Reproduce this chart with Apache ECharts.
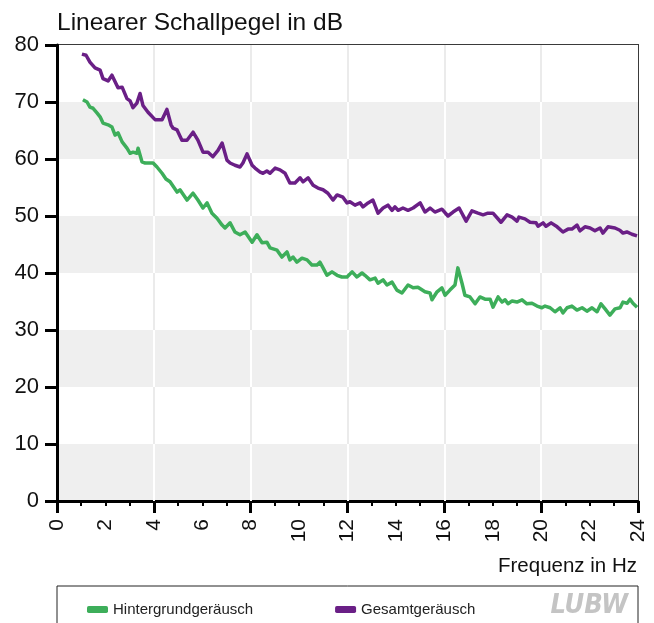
<!DOCTYPE html>
<html>
<head>
<meta charset="utf-8">
<script src="https://cdn.jsdelivr.net/npm/echarts@6/dist/echarts.min.js"></script>
<style>
  html, body { margin: 0; padding: 0; background: #fff; }
  #chart { width: 654px; height: 623px; }
</style>
</head>
<body>
<div id="chart"></div>
<script>
// Hintergrundgeräusch (green)
var hgFreq = [1.07, 1.24, 1.36, 1.49, 1.65, 1.78, 1.90, 2.11, 2.27, 2.40,
  2.52, 2.69, 2.89, 3.02, 3.14, 3.30, 3.35, 3.51, 3.64, 3.97,
  4.13, 4.34, 4.50, 4.67, 4.96, 5.08, 5.37, 5.62, 5.82, 6.03,
  6.20, 6.40, 6.61, 6.82, 6.94, 7.15, 7.35, 7.56, 7.77, 8.06,
  8.26, 8.47, 8.67, 8.80, 9.09, 9.29, 9.50, 9.62, 9.75, 9.91,
  10.12, 10.33, 10.53, 10.74, 10.86, 10.99, 11.15, 11.36, 11.57, 11.77,
  11.98, 12.19, 12.39, 12.60, 12.72, 12.93, 13.14, 13.26, 13.47, 13.63,
  13.84, 14.04, 14.25, 14.50, 14.71, 14.91, 15.20, 15.41, 15.49, 15.70,
  15.90, 16.03, 16.23, 16.44, 16.56, 16.73, 16.85, 17.06, 17.27, 17.47,
  17.68, 17.89, 18.01, 18.22, 18.38, 18.51, 18.63, 18.80, 19.00, 19.21,
  19.41, 19.62, 19.83, 20.03, 20.16, 20.37, 20.57, 20.78, 20.90, 21.07,
  21.27, 21.48, 21.69, 21.89, 22.10, 22.31, 22.47, 22.64, 22.84, 23.05,
  23.26, 23.38, 23.55, 23.67, 23.79, 23.96];
var hgLevel = [70.4, 70.0, 69.1, 68.9, 68.1, 67.4, 66.3, 66.0, 65.6, 64.2,
  64.6, 63.0, 61.9, 61.0, 61.2, 61.0, 61.9, 59.5, 59.3, 59.3,
  58.6, 57.5, 56.5, 56.0, 54.2, 54.6, 52.8, 54.0, 52.8, 51.4,
  52.3, 50.5, 49.6, 48.4, 47.9, 48.8, 47.2, 46.7, 47.2, 45.4,
  46.7, 45.3, 45.4, 44.4, 44.0, 42.8, 43.7, 42.3, 42.8, 41.9,
  42.6, 42.3, 41.4, 41.4, 41.9, 40.9, 39.6, 40.2, 39.6, 39.3,
  39.3, 40.2, 39.3, 40.0, 39.6, 38.8, 39.1, 38.2, 38.8, 37.9,
  38.4, 37.0, 36.5, 37.9, 37.4, 37.5, 36.7, 36.5, 35.3, 36.7,
  37.4, 36.1, 37.0, 37.9, 40.9, 38.2, 36.1, 35.8, 34.6, 35.8,
  35.4, 35.4, 34.0, 35.8, 34.9, 35.3, 34.6, 35.1, 34.9, 35.3,
  34.6, 34.7, 34.2, 33.9, 34.2, 33.9, 33.2, 33.9, 33.0, 33.9,
  34.2, 33.5, 33.9, 33.3, 33.9, 33.2, 34.6, 33.7, 32.6, 33.7,
  33.9, 34.9, 34.7, 35.4, 34.7, 34.0];

// Gesamtgeräusch (purple)
var gesFreq = [1.03, 1.20, 1.36, 1.57, 1.78, 1.90, 2.11, 2.27, 2.52, 2.69,
  2.89, 3.02, 3.14, 3.30, 3.43, 3.55, 3.76, 4.05, 4.34, 4.54,
  4.71, 4.79, 4.96, 5.16, 5.37, 5.62, 5.82, 6.03, 6.24, 6.44,
  6.65, 6.82, 7.02, 7.15, 7.35, 7.56, 7.68, 7.85, 8.06, 8.18,
  8.39, 8.51, 8.67, 8.80, 9.01, 9.21, 9.42, 9.62, 9.83, 10.04,
  10.16, 10.37, 10.58, 10.78, 10.99, 11.19, 11.40, 11.57, 11.81, 11.98,
  12.10, 12.31, 12.52, 12.64, 12.85, 13.05, 13.26, 13.47, 13.67, 13.84,
  13.96, 14.09, 14.29, 14.50, 14.71, 15.00, 15.20, 15.41, 15.61, 15.90,
  16.15, 16.36, 16.61, 16.90, 17.14, 17.39, 17.60, 17.80, 18.01, 18.34,
  18.59, 18.80, 19.00, 19.08, 19.33, 19.54, 19.79, 19.87, 20.08, 20.20,
  20.41, 20.66, 20.90, 21.11, 21.27, 21.48, 21.60, 21.81, 22.02, 22.22,
  22.43, 22.55, 22.76, 23.05, 23.25, 23.38, 23.54, 23.75, 23.96];
var gesLevel = [78.4, 78.2, 77.0, 76.0, 75.6, 74.1, 73.7, 74.7, 72.5, 72.6,
  70.6, 70.2, 69.0, 69.8, 71.5, 69.4, 68.2, 66.9, 66.9, 68.7,
  66.0, 65.4, 65.1, 63.3, 63.3, 64.7, 63.3, 61.2, 61.2, 60.4,
  61.5, 62.8, 59.8, 59.3, 58.9, 58.6, 59.3, 60.9, 58.9, 58.4,
  57.7, 57.5, 57.9, 57.5, 58.4, 58.1, 57.5, 55.8, 55.8, 56.7,
  56.0, 56.7, 55.4, 54.9, 54.6, 54.0, 52.8, 53.7, 53.3, 52.3,
  52.5, 51.9, 52.3, 51.6, 52.3, 52.8, 50.5, 51.4, 51.9, 51.0,
  51.6, 51.0, 51.4, 51.0, 51.4, 52.3, 50.7, 51.4, 50.7, 51.2,
  50.0, 50.7, 51.4, 49.1, 50.9, 50.5, 50.2, 50.5, 50.5, 48.9,
  50.2, 49.8, 49.1, 49.8, 49.5, 48.9, 48.8, 48.2, 48.8, 48.2,
  48.8, 48.1, 47.2, 47.7, 47.7, 48.4, 47.4, 48.1, 47.9, 47.4,
  47.9, 47.0, 48.1, 47.9, 47.5, 47.0, 47.2, 46.8, 46.5];

var seriesNames = ['Hintergrundgeräusch', 'Gesamtgeräusch'];
// vertical grid lines every 4 Hz, white on the grey bands, light grey on the white ones
var gridX = [4, 8, 12, 16, 20];
var greyBands = [[0, 10], [20, 30], [40, 50], [60, 70]];
var whiteBands = [[10, 20], [30, 40], [50, 60], [70, 80]];

function zip(xs, ys) {
  return xs.map(function (x, i) { return [x, ys[i]]; });
}

var gridSegments = [];
gridX.forEach(function (x) {
  greyBands.forEach(function (b) {
    gridSegments.push([{ coord: [x, b[0]], lineStyle: { color: '#ffffff', width: 2, type: 'solid' } }, { coord: [x, b[1]] }]);
  });
  whiteBands.forEach(function (b) {
    gridSegments.push([{ coord: [x, b[0]], lineStyle: { color: '#ebebeb', width: 2, type: 'solid' } }, { coord: [x, b[1]] }]);
  });
});

var font = 'Liberation Sans, Arial, sans-serif';
var chart = echarts.init(document.getElementById('chart'));
var option = {
  animation: false,
  textStyle: { fontFamily: font },
  title: {
    text: 'Linearer Schallpegel in dB',
    left: 57,
    top: 11,
    padding: 0,
    textStyle: { fontSize: 24.5, fontWeight: 'normal', color: '#111', fontFamily: font }
  },
  grid: {
    left: 57, right: 16, top: 45, bottom: 122,
    show: true, borderColor: '#3a3a3a', borderWidth: 2
  },
  legend: {
    left: 82,
    top: 597,
    icon: 'roundRect',
    itemWidth: 21,
    itemHeight: 7,
    itemGap: 82,
    textStyle: { fontSize: 15, color: '#222', fontFamily: font },
    data: seriesNames
  },
  xAxis: [{
    type: 'value',
    min: 0, max: 24, interval: 2,
    position: 'bottom',
    axisLine: { lineStyle: { color: '#000', width: 3 } },
    axisTick: { length: 5, lineStyle: { color: '#000', width: 2 } },
    minorTick: { show: true, splitNumber: 2, length: 5, lineStyle: { color: '#000', width: 2 } },
    axisLabel: { rotate: 90, margin: 18, fontSize: 21, color: '#111', fontFamily: font },
    splitLine: { show: false }
  }, {
    type: 'value',
    min: 0, max: 24, interval: 4,
    position: 'bottom',
    axisLine: { show: false },
    axisTick: { length: 12, lineStyle: { color: '#000', width: 3 } },
    axisLabel: { show: false },
    splitLine: { show: false }
  }],
  yAxis: {
    type: 'value',
    min: 0, max: 80, interval: 10,
    axisLine: { show: true, lineStyle: { color: '#000', width: 3 } },
    axisTick: { show: true, length: 12, lineStyle: { color: '#000', width: 3 } },
    axisLabel: { margin: 18, fontSize: 22, color: '#111', fontFamily: font },
    splitLine: { show: false },
    splitArea: { show: true, areaStyle: { color: ['#efefef', '#ffffff'] } }
  },
  series: [{
    // only carries the vertical grid lines, below the data lines
    name: 'raster',
    type: 'line',
    xAxisIndex: 0,
    data: [],
    z: 1,
    markLine: {
      z: 1,
      silent: true,
      symbol: ['none', 'none'],
      label: { show: false },
      data: gridSegments
    }
  }, {
    name: seriesNames[0],
    type: 'line',
    xAxisIndex: 0,
    data: zip(hgFreq, hgLevel),
    symbol: 'none',
    z: 3,
    color: '#3dae5a',
    lineStyle: { width: 3.5, color: '#3dae5a', join: 'round' }
  }, {
    name: seriesNames[1],
    type: 'line',
    xAxisIndex: 0,
    data: zip(gesFreq, gesLevel),
    symbol: 'none',
    z: 3,
    color: '#6a1f86',
    lineStyle: { width: 3.5, color: '#6a1f86', join: 'round' }
  }],
  graphic: [{
    type: 'text',
    x: 627, y: 71,
    style: {
      text: 'MP1 / 120 m',
      font: 'bold 20px "DejaVu Sans", sans-serif',
      fill: '#000',
      align: 'right',
      verticalAlign: 'middle'
    }
  }, {
    type: 'text',
    x: 637, y: 566,
    style: {
      text: 'Frequenz in Hz',
      font: '20.5px "Liberation Sans", Arial, sans-serif',
      fill: '#111',
      align: 'right',
      verticalAlign: 'middle'
    }
  }, {
    type: 'rect',
    shape: { x: 57, y: 586, width: 581, height: 60 },
    style: { fill: 'none', stroke: '#222', lineWidth: 1 },
    z: -1
  }, {
    type: 'text',
    x: 628, y: 606,
    style: {
      text: 'LUBW',
      font: 'italic bold 27px "Liberation Sans Narrow", "DejaVu Sans Condensed", sans-serif',
      fill: '#c4c4c4',
      align: 'right',
      verticalAlign: 'middle'
    }
  }]
};
chart.setOption(option);
</script>
</body>
</html>
